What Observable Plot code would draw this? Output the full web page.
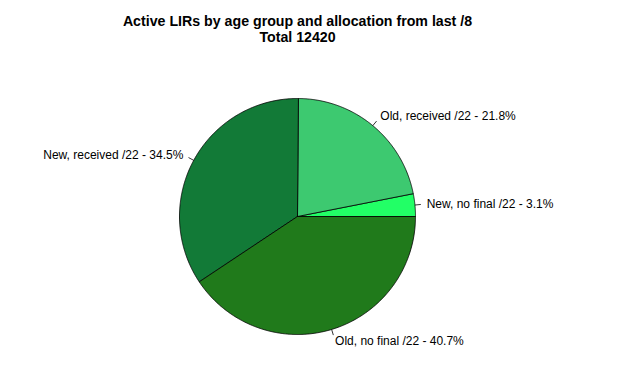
<!DOCTYPE html>
<html><head><meta charset="utf-8">
<script src="https://cdn.jsdelivr.net/npm/d3@7"></script>
<script src="https://cdn.jsdelivr.net/npm/@observablehq/plot@0.6"></script>
<style>
body{margin:0;background:#fff;font-family:"Liberation Sans",Arial,sans-serif;}
#title{width:595px;height:48px;text-align:center;font-weight:bold;font-size:14.2px;line-height:16px;padding-top:12.5px;box-sizing:border-box;color:#000;white-space:nowrap;}
#chart svg{display:block;}
</style></head><body>
<div id="title">Active LIRs by age group and allocation from last /8<br>Total 12420</div>
<div id="chart"></div>
<script>
const categories = ["New, no final /22", "Old, received /22", "New, received /22", "Old, no final /22"];
const shares = [3.1, 21.8, 34.5, 40.7];
const colors = ["#22ff66", "#3dc970", "#127a37", "#207a1b"];
const total = 12420;

const W = 620, H = 325, R = 118, cx = 297, cy = 168;
const sum = d3.sum(shares);
let cum = 0;
const slices = categories.map((c, i) => {
  const a0 = 2 * Math.PI * cum / sum;
  cum += shares[i];
  const a1 = 2 * Math.PI * cum / sum;
  return {cat: c, share: shares[i], a0, a1, mid: (a0 + a1) / 2, label: `${c} - ${shares[i]}%`};
});
const poly = [];
for (const s of slices) {
  poly.push({cat: s.cat, x: 0, y: 0});
  const n = Math.max(2, Math.ceil((s.a1 - s.a0) / (Math.PI / 360)));
  for (let k = 0; k <= n; k++) {
    const a = s.a0 + (s.a1 - s.a0) * k / n;
    poly.push({cat: s.cat, x: Math.cos(a), y: Math.sin(a)});
  }
  poly.push({cat: s.cat, x: 0, y: 0});
}
const ticks = slices.map(s => ({x1: Math.cos(s.mid), y1: Math.sin(s.mid), x2: 1.05 * Math.cos(s.mid), y2: 1.05 * Math.sin(s.mid)}));
const labels = slices.map(s => ({x: 1.1 * Math.cos(s.mid), y: 1.1 * Math.sin(s.mid), label: s.label, right: Math.cos(s.mid) > 0}));

const chart = Plot.plot({
  width: W, height: H,
  marginTop: 0, marginBottom: 0, marginLeft: 0, marginRight: 0,
  x: {domain: [-cx / R, (W - cx) / R], axis: null},
  y: {domain: [-(H - cy) / R, cy / R], axis: null},
  color: {domain: categories, range: colors},
  style: {fontFamily: "'Liberation Sans', Arial, sans-serif", fontSize: "12px", background: "#fff"},
  marks: [
    Plot.line(poly, {x: "x", y: "y", z: "cat", fill: "cat", stroke: "#000", strokeWidth: 0.8, curve: "linear"}),
    Plot.link(ticks, {x1: "x1", y1: "y1", x2: "x2", y2: "y2", stroke: "#000", strokeWidth: 0.8}),
    Plot.text(labels.filter(d => d.right), {x: "x", y: "y", text: "label", textAnchor: "start", fill: "#000", fontSize: 12}),
    Plot.text(labels.filter(d => !d.right), {x: "x", y: "y", text: "label", textAnchor: "end", fill: "#000", fontSize: 12})
  ]
});
document.getElementById("chart").appendChild(chart);
</script>
</body></html>
